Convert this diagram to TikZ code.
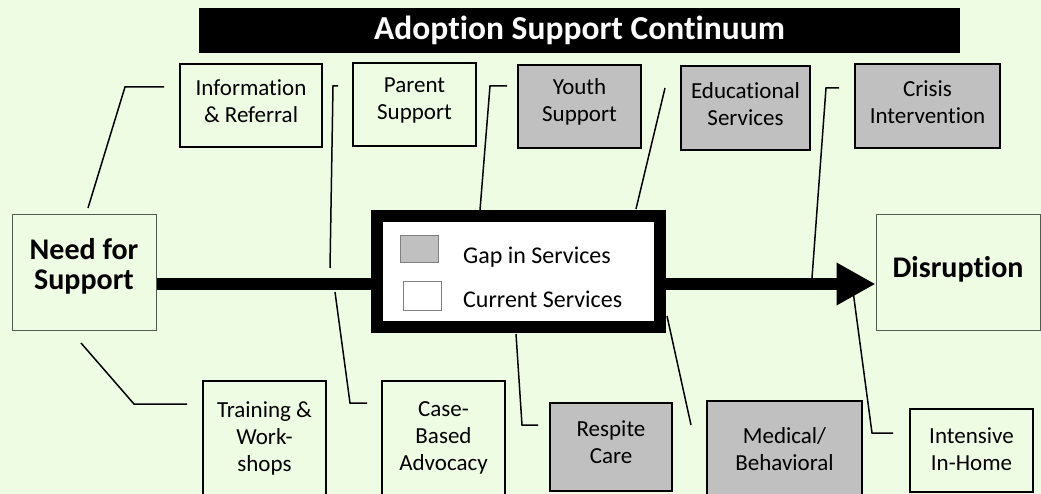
\documentclass[tikz,border=0pt]{standalone}
\usepackage{fontspec}
\setmainfont{Carlito}[Ligatures=NoCommon]
\usetikzlibrary{arrows.meta}
\definecolor{bgc}{HTML}{EFFCE4}
\definecolor{gapc}{HTML}{C0C0C0}
\definecolor{framec}{HTML}{505C50}
\definecolor{swframe}{HTML}{808080}
\begin{document}
\begin{tikzpicture}[x=1pt,y=-1pt,
  svc/.style={draw=black,line width=1.6pt,inner sep=0pt},
  curbox/.style={svc,fill=bgc},
  gapbox/.style={svc,fill=gapc},
  boxtxt/.style={align=center,inner sep=0pt,font=\fontsize{23}{27}\selectfont},
  endbox/.style={draw=framec,line width=1pt,fill=bgc,inner sep=0pt},
  endtxt/.style={align=center,inner sep=0pt,font=\fontsize{30}{30}\selectfont\bfseries},
  swatch/.style={draw=swframe,line width=1pt,inner sep=0pt,minimum width=38pt,minimum height=27pt},
  legtext/.style={anchor=base west,inner sep=0pt,font=\fontsize{24}{27}\selectfont},
  conn/.style={line width=1.5pt},
  spine/.style={line width=12pt}]
\useasboundingbox (0,0) rectangle (1041,494);
\clip (0,0) rectangle (1041,494);
\fill[bgc] (0,0) rectangle (1041,494);

% title
\node[fill=black,minimum width=761pt,minimum height=45pt,inner sep=0pt,text=white,
      font=\fontsize{33.5}{34}\selectfont\bfseries] (title) at (579.5,30.5) {Adoption Support Continuum};

% top row
\node[curbox,minimum width=142pt,minimum height=83pt] (info) at (251,105.5) {};
\node[curbox,minimum width=123pt,minimum height=83pt] (parent) at (414.5,104.5) {};
\node[gapbox,minimum width=123pt,minimum height=83pt] (youth) at (579.5,106.5) {};
\node[gapbox,minimum width=129pt,minimum height=84pt] (edu) at (745.5,108) {};
\node[gapbox,minimum width=145pt,minimum height=84pt] (crisis) at (927.5,106) {};
\node[boxtxt] (infot) at ([yshift=4pt]info.center) {Information\\\& Referral};
\node[boxtxt] (parentt) at ([yshift=4pt]parent.center) {Parent\\Support};
\node[boxtxt] (youtht) at ([yshift=5pt]youth.center) {Youth\\Support};
\node[boxtxt] (edut) at ([yshift=4pt]edu.center) {Educational\\Services};
\node[boxtxt] (crisist) at ([yshift=4pt]crisis.center) {Crisis\\Intervention};

% ends
\node[endbox,minimum width=144pt,minimum height=115pt] (need) at (84,272.5) {};
\node[endbox,minimum width=164pt,minimum height=115pt] (disr) at (958,272.5) {};
\node[endtxt] (needt) at ([yshift=6pt]need.center) {Need for\\Support};
\node[endtxt] (disrt) at ([yshift=3pt]disr.center) {Disruption};

% legend
\node[draw=black,line width=12pt,fill=white,minimum width=283pt,minimum height=111pt,inner sep=0pt] (legend) at (518.5,271.5) {};
\node[swatch,fill=gapc] (gsw) at (419,249.5) {};
\node[swatch,fill=white,minimum height=28pt] (wsw) at (422,296) {};
\node[legtext] (gtxt) at (463,264) {Gap in Services};
\node[legtext] (ctxt) at (463,308) {Current Services};

% bottom row
\node[curbox,minimum width=123pt,minimum height=114pt] (train) at (264.5,438) {};
\node[curbox,minimum width=123pt,minimum height=114pt] (case) at (443.5,438) {};
\node[gapbox,minimum width=122pt,minimum height=88pt] (respite) at (611,447) {};
\node[gapbox,minimum width=155pt,minimum height=96pt] (medical) at (784.5,449) {};
\node[curbox,minimum width=123pt,minimum height=83pt] (intens) at (971.5,450.5) {};
\node[boxtxt] (traint) at ([yshift=0pt]train.center) {Training \&\\Work-\\shops};
\node[boxtxt] (caset) at ([yshift=0pt]case.center) {Case-\\Based\\Advocacy};
\node[boxtxt] (respitet) at ([yshift=5pt]respite.center) {Respite\\Care};
\node[boxtxt] (medicalt) at ([yshift=0pt]medical.center) {Medical/\\Behavioral};
\node[boxtxt] (intenst) at ([yshift=1.5pt]intens.center) {Intensive\\In-Home};

% spine
\coordinate (sy) at (0,284);
\draw[spine] (need.east |- sy) -- (legend.west |- sy);
\draw[spine,-{Triangle[length=39pt,width=40pt]}] (legend.east |- sy) -- (disr.west |- sy);

% connectors (free ends as named coordinates)
\coordinate (i1) at (164,87);  \coordinate (i2) at (125,87);  \coordinate (i3) at (88,208);
\coordinate (p1) at (338,86);  \coordinate (p2) at (333,86);  \coordinate (p3) at (330,268);
\coordinate (y1) at (507,86);  \coordinate (y2) at (490,86);  \coordinate (y3) at (480,210);
\coordinate (e1) at (665,88);  \coordinate (e2) at (636,209);
\coordinate (c1) at (839,88);  \coordinate (c2) at (826,88);  \coordinate (c3) at (812,278);
\coordinate (t1) at (81,343);  \coordinate (t2) at (134,404); \coordinate (t3) at (187,404);
\coordinate (a1) at (335,292); \coordinate (a2) at (350,403); \coordinate (a3) at (367,403);
\coordinate (r1) at (516,334); \coordinate (r2) at (522,425); \coordinate (r3) at (538,425);
\coordinate (m1) at (667,316); \coordinate (m2) at (691,425);
\coordinate (n1) at (853,291); \coordinate (n2) at (872,433); \coordinate (n3) at (893,433);

\draw[conn] (i1) -- (i2) -- (i3);
\draw[conn] (p1) -- (p2) -- (p3);
\draw[conn] (y1) -- (y2) -- (y3);
\draw[conn] (e1) -- (e2);
\draw[conn] (c1) -- (c2) -- (c3);
\draw[conn] (t1) -- (t2) -- (t3);
\draw[conn] (a1) -- (a2) -- (a3);
\draw[conn] (r1) -- (r2) -- (r3);
\draw[conn] (m1) -- (m2);
\draw[conn] (n1) -- (n2) -- (n3);
\end{tikzpicture}
\end{document}
